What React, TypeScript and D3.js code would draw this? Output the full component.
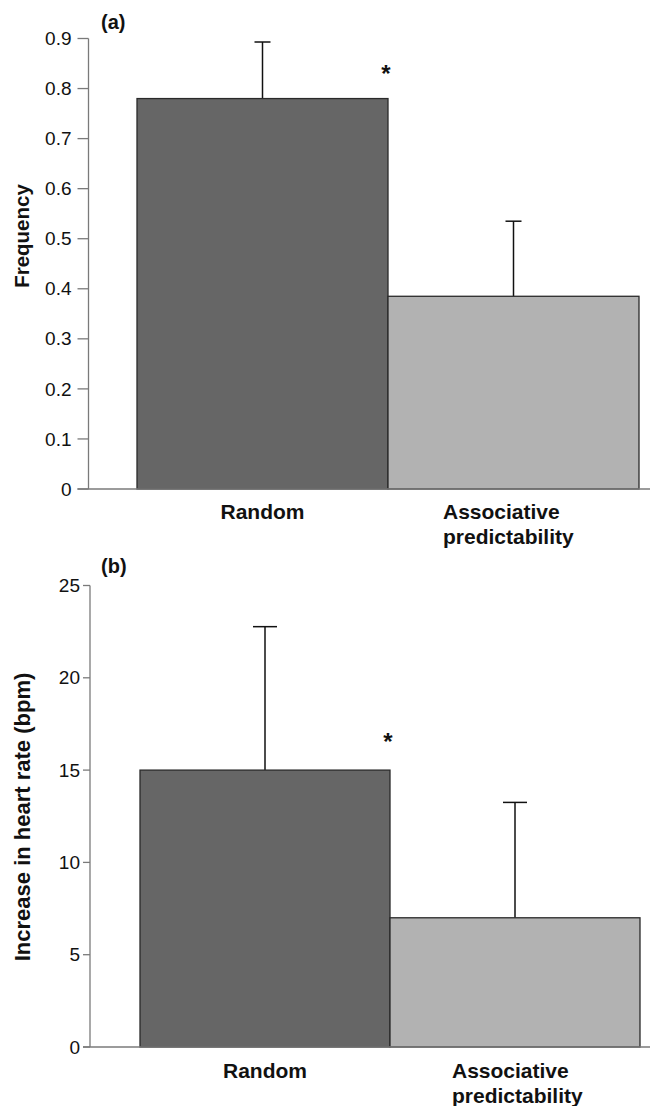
import React from "react";
import * as d3 from "d3";

const categories = ["Random", "Associative predictability"];
const freqValues = [0.78, 0.385];
const freqErrors = [0.113, 0.15];
const freqTicks = [0, 0.1, 0.2, 0.3, 0.4, 0.5, 0.6, 0.7, 0.8, 0.9];
const hrValues = [15.0, 7.0];
const hrErrors = [7.77, 6.25];
const hrTicks = [0, 5, 10, 15, 20, 25];
const barColors = ["#666666", "#b2b2b2"];
const significant = [true, false];

type PanelProps = {
  label: string;
  yLabel: string;
  yLabelSize: number;
  values: number[];
  errors: number[];
  ticks: number[];
  domainMax: number;
  y0: number;
  y1: number;
  axisX: number;
  tickLen: number;
  tickGap: number;
  capHalf: number;
  barLeft: number;
  barRight: number;
  fmt: (v: number) => string;
  yLabelY: number;
  starDy: number;
  xLabelY: number;
  assocX: number;
  panelLabelY: number;
};

function Panel(p: PanelProps) {
  const y = d3.scaleLinear().domain([0, p.domainMax]).range([p.y0, p.y1]);
  const x = d3.scaleBand().domain(categories).range([p.barLeft, p.barRight]).padding(0);
  const bw = x.bandwidth();
  const font = "Liberation Sans, Arial, sans-serif";
  return (
    <g>
      <text x={101} y={p.panelLabelY} fontFamily={font} fontWeight="bold" fontSize={20} fill="#111">
        {p.label}
      </text>
      {/* y axis */}
      <line x1={p.axisX} x2={p.axisX} y1={y(0)} y2={y(p.domainMax)} stroke="#7a7a7a" strokeWidth={1.3} />
      {p.ticks.map((t) => (
        <g key={t}>
          <line x1={p.axisX - p.tickLen} x2={p.axisX} y1={y(t)} y2={y(t)} stroke="#7a7a7a" strokeWidth={1.3} />
          <text
            x={p.axisX - p.tickLen - p.tickGap}
            y={y(t)}
            dy="0.35em"
            textAnchor="end"
            fontFamily={font}
            fontSize={19}
            fill="#111"
          >
            {p.fmt(t)}
          </text>
        </g>
      ))}
      <text
        transform={`translate(22,${p.yLabelY}) rotate(-90)`}
        textAnchor="middle"
        dy="0.35em"
        fontFamily={font}
        fontWeight="bold"
        fontSize={p.yLabelSize}
        fill="#111"
      >
        {p.yLabel}
      </text>
      {/* bars */}
      {categories.map((c, i) => {
        const bx = x(c)!;
        const cx = bx + bw / 2;
        const top = y(p.values[i]);
        const et = y(p.values[i] + p.errors[i]);
        return (
          <g key={c}>
            <line x1={cx} x2={cx} y1={top} y2={et} stroke="#111" strokeWidth={1.5} />
            <line x1={cx - p.capHalf} x2={cx + p.capHalf} y1={et} y2={et} stroke="#111" strokeWidth={1.5} />
            <rect x={bx} y={top} width={bw} height={y(0) - top} fill={barColors[i]} stroke="#2a2a2a" strokeWidth={1.3} />
            {significant[i] && (
              <text x={bx + bw - 2} y={top + p.starDy} textAnchor="middle" fontFamily={font} fontWeight="bold" fontSize={24} fill="#111">
                *
              </text>
            )}
          </g>
        );
      })}
      {/* baseline */}
      <line x1={p.axisX - p.tickLen} x2={650} y1={y(0)} y2={y(0)} stroke="#7a7a7a" strokeWidth={1.3} />
      {/* x labels */}
      <text x={x(categories[0])! + bw / 2} y={p.xLabelY} textAnchor="middle" fontFamily={font} fontWeight="bold" fontSize={21} fill="#111">
        {categories[0]}
      </text>
      <text x={p.assocX} y={p.xLabelY} fontFamily={font} fontWeight="bold" fontSize={21} fill="#111">
        <tspan x={p.assocX}>Associative</tspan>
        <tspan x={p.assocX} dy={25}>predictability</tspan>
      </text>
    </g>
  );
}

export default function App() {
  return (
    <svg width={653} height={1106} style={{ display: "block", position: "absolute", left: 0, top: 0 }}>
      <rect width={653} height={1106} fill="#fff" />
      <Panel
        label="(a)"
        yLabel="Frequency"
        yLabelSize={20.5}
        values={freqValues}
        errors={freqErrors}
        ticks={freqTicks}
        domainMax={0.9}
        y0={489}
        y1={38.5}
        axisX={88.5}
        tickLen={11}
        tickGap={6}
        capHalf={8}
        barLeft={137}
        barRight={639}
        fmt={(v) => (v === 0 ? "0" : d3.format(".1f")(v))}
        yLabelY={236}
        starDy={-17}
        xLabelY={519}
        assocX={443}
        panelLabelY={29}
      />
      <Panel
        label="(b)"
        yLabel="Increase in heart rate (bpm)"
        yLabelSize={22}
        values={hrValues}
        errors={hrErrors}
        ticks={hrTicks}
        domainMax={25}
        y0={1047}
        y1={585.5}
        axisX={90}
        tickLen={7}
        tickGap={3}
        capHalf={12}
        barLeft={140}
        barRight={640}
        fmt={(v) => String(v)}
        yLabelY={817}
        starDy={-20}
        xLabelY={1078}
        assocX={452}
        panelLabelY={573}
      />
    </svg>
  );
}
